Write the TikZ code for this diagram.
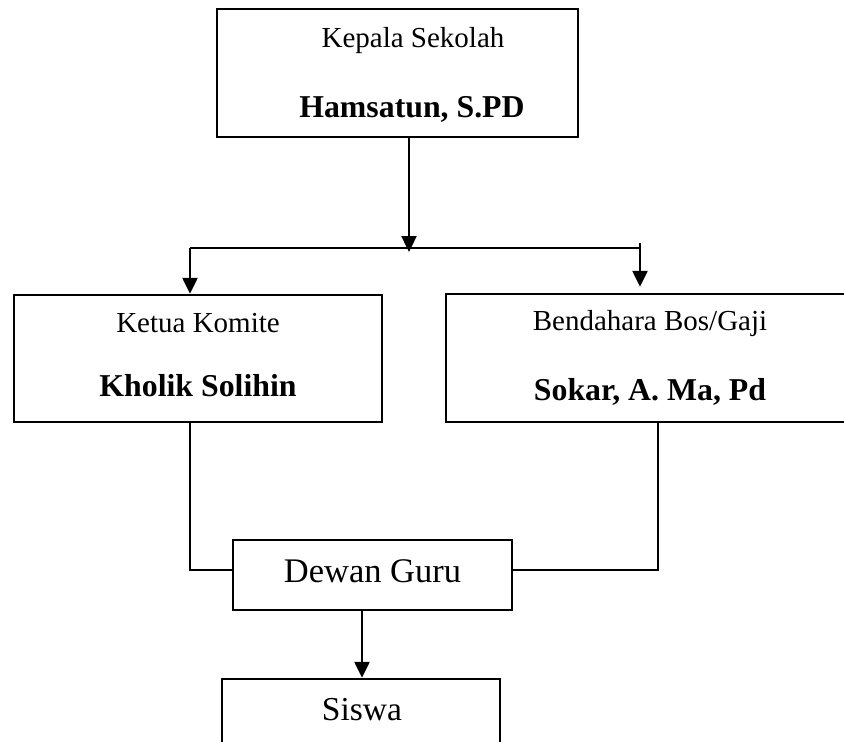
\documentclass[tikz,border=0pt]{standalone}
\usepackage{fontspec}
\setmainfont{Liberation Serif}
\usetikzlibrary{arrows.meta}
\tikzset{
  box/.style={draw, line width=2.4pt, inner sep=0pt, rectangle},
  line/.style={draw, line width=2.4pt},
  arr/.style={line width=2.4pt, -{Triangle[length=16pt,width=15pt]}},
  reg/.style={anchor=base, inner sep=0pt, font=\fontsize{29}{34}\selectfont},
  bld/.style={anchor=base, inner sep=0pt, font=\fontsize{31.8}{36}\selectfont\bfseries},
  big/.style={anchor=base, inner sep=0pt, font=\fontsize{34.5}{40}\selectfont},
}
\begin{document}
\begin{tikzpicture}[x=1pt,y=-1pt]
\useasboundingbox (0,0) rectangle (844,742);
% boxes
\node[box, minimum width=361pt, minimum height=128pt] (kepala) at (397.5,73) {};
\node[box, minimum width=368pt, minimum height=127pt] (ketua) at (198,358.5) {};
\node[box, minimum width=400pt, minimum height=128pt] (bendahara) at (646,358) {};
\node[box, minimum width=279pt, minimum height=70pt] (dewan) at (372.5,575) {};
\node[box, minimum width=278pt, minimum height=91pt] (siswa) at (361,724.5) {};
% texts
\node[reg] (t1) at (413,47) {Kepala Sekolah};
\node[bld] (t2) at (412,117) {Hamsatun, S.PD};
\node[reg] (t3) at (198,332) {Ketua Komite};
\node[bld] (t4) at (198,396) {Kholik Solihin};
\node[reg] (t5) at (650,330) {Bendahara Bos/Gaji};
\node[bld] (t6) at (650,400) {Sokar, A. Ma, Pd};
\node[big] (t7) at (372.5,582) {Dewan Guru};
\node[big, font=\fontsize{33.5}{40}\selectfont] (t8) at (362,720) {Siswa};
% connectors
\coordinate (hub) at (409,252);
\coordinate (lbr) at (190,248);
\coordinate (rbr) at (640,243);
\coordinate (lk) at (190,570);
\coordinate (rk) at (658,570);
\coordinate (sx) at (362,610);
\draw[line] (lbr) -- (lbr -| rbr);
\draw[arr] (kepala.south -| hub) -- (hub);
\draw[arr] (lbr) -- (lbr |- ketua.north);
\draw[arr, shorten >=6pt] (rbr) -- (rbr |- bendahara.north);
\draw[line] (lk |- ketua.south) -- (lk) -- (lk -| dewan.west);
\draw[line] (rk |- bendahara.south) -- (rk) -- (rk -| dewan.east);
\draw[arr] (sx |- dewan.south) -- (sx |- siswa.north);
\end{tikzpicture}
\end{document}
